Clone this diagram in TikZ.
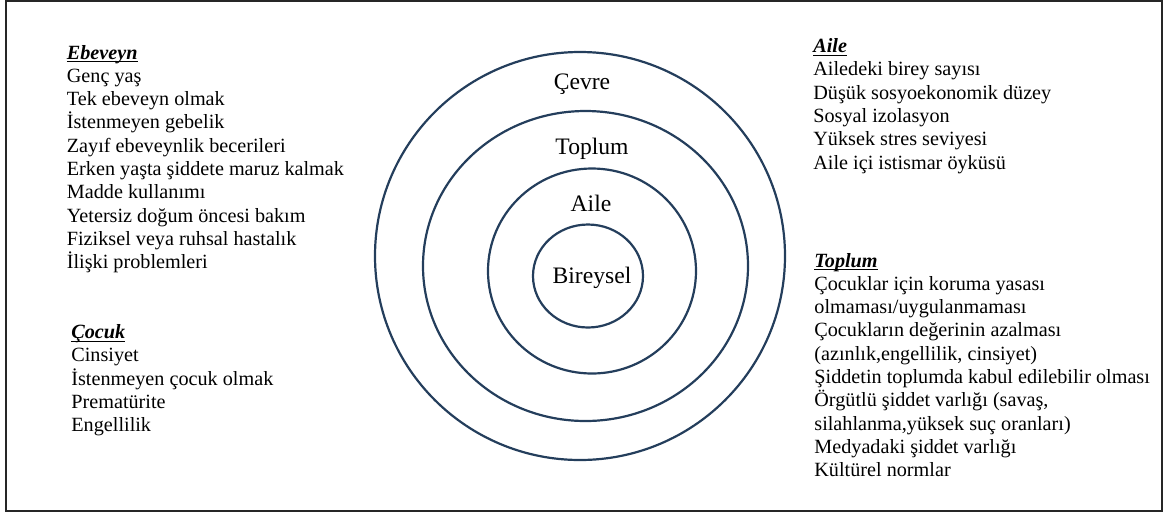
\documentclass[tikz,border=0pt]{standalone}
\usepackage{fontspec}
\setmainfont{Liberation Serif}
\usetikzlibrary{shapes.geometric}
\definecolor{ringblue}{RGB}{36,62,92}
\newcommand{\listhead}[1]{\underline{\smash{\textbf{\textit{#1}}}}}
\begin{document}
\begin{tikzpicture}[x=0.5pt,y=-0.5pt]
	\tikzstyle{ring} = [ellipse,draw=ringblue,line width=1.1pt,inner sep=0pt]
	\tikzstyle{tag} = [anchor=base,inner sep=0pt,font=\fontsize{11.8}{14}\selectfont]
	\tikzstyle{list} = [anchor=base west,align=left,inner sep=0pt,font=\fontsize{10.1}{11.65}\selectfont]
	\useasboundingbox (0,0) rectangle (1164,516);
	\draw[black!85,line width=1pt] (5.5,1) rectangle (1161.5,510.5);
	% rings
	\node[ring,minimum width=205pt,minimum height=204pt](cevre)at(580,256){};
	\node[ring,minimum width=162.5pt,minimum height=155pt](toplum)at(585.5,266){};
	\node[ring,minimum width=104pt,minimum height=102.5pt](aile)at(592,271){};
	\node[ring,minimum width=55pt,minimum height=51.5pt](bireysel)at(588,276){};
	\node[tag](cevretag)at(582,89){Çevre};
	\node[tag](toplumtag)at(592,154){Toplum};
	\node[tag](ailetag)at(591,211){Aile};
	\node[tag](bireyseltag)at(592,283){Bireysel};
	% lists (placed by the baseline of their last line)
	\node[list](ebeveynlist)at(66.5,268.7){\listhead{Ebeveyn}\\Genç yaş\\Tek ebeveyn olmak\\İstenmeyen gebelik\\Zayıf ebeveynlik becerileri\\Erken yaşta şiddete maruz kalmak\\Madde kullanımı\\Yetersiz doğum öncesi bakım\\Fiziksel veya ruhsal hastalık\\İlişki problemleri};
	\node[list](cocuklist)at(71,431.7){\listhead{Çocuk}\\Cinsiyet\\İstenmeyen çocuk olmak\\Prematürite\\Engellilik};
	\node[list](ailelist)at(813,169){\listhead{Aile}\\Ailedeki birey sayısı\\Düşük sosyoekonomik düzey\\Sosyal izolasyon\\Yüksek stres seviyesi\\Aile içi istismar öyküsü};
	\node[list](toplumlist)at(814,476.7){\listhead{Toplum}\\Çocuklar için koruma yasası\\olmaması/uygulanmaması\\Çocukların değerinin azalması\\(azınlık,engellilik, cinsiyet)\\Şiddetin toplumda kabul edilebilir olması\\Örgütlü şiddet varlığı (savaş,\\silahlanma,yüksek suç oranları)\\Medyadaki şiddet varlığı\\Kültürel normlar};
\end{tikzpicture}
\end{document}
